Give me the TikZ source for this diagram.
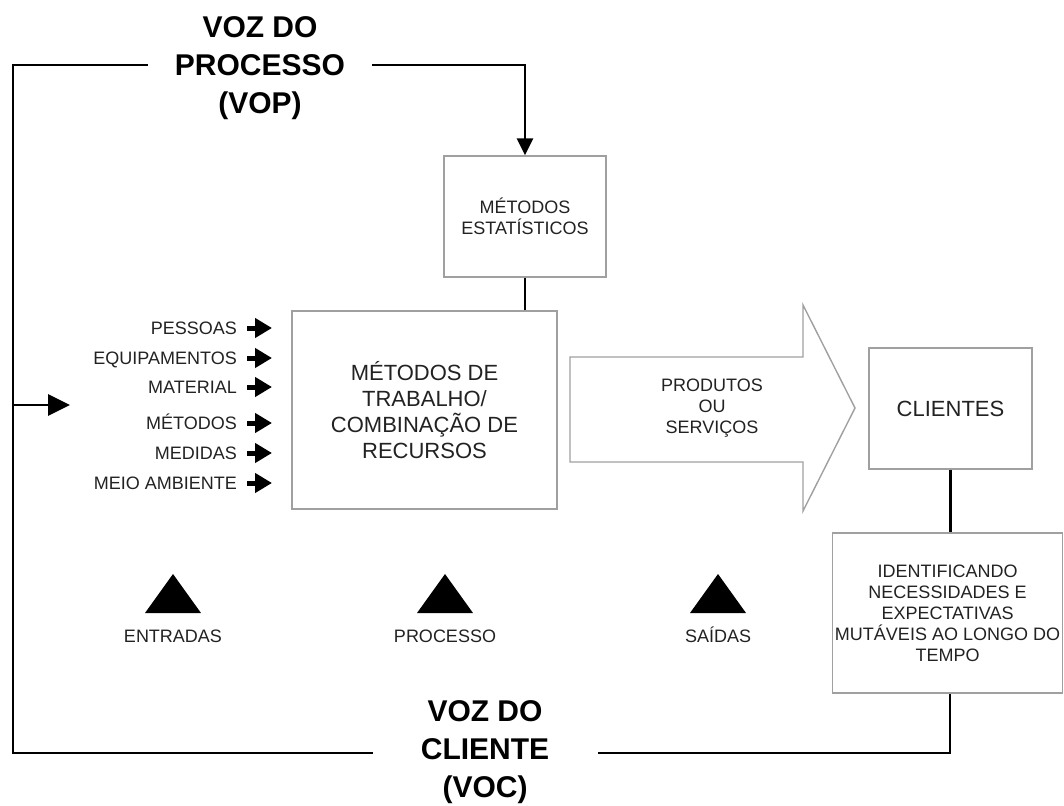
\documentclass[tikz,border=0pt]{standalone}
\usepackage{fontspec}
\setmainfont{Liberation Sans}
\usetikzlibrary{arrows.meta}
\definecolor{ink}{HTML}{222222}
\definecolor{edge}{HTML}{A0A0A0}
\begin{document}
\begin{tikzpicture}[x=1pt,y=-1pt,
  conn/.style={line width=2.9pt, draw=black},
  small/.style={font=\fontsize{18}{21}\selectfont},
  big/.style={font=\fontsize{22}{26}\selectfont},
  procbox/.style={draw=edge, line width=1.4pt, fill=white, inner sep=2pt,
    align=center, text=ink},
  title/.style={font=\bfseries\fontsize{30}{38}\selectfont, align=center,
    text=black, inner sep=0pt},
  lbl/.style={small, text=ink, anchor=east, inner sep=0pt,
    text height=12.9pt, text depth=0pt},
  lblarrow/.style={line width=5pt, -{Triangle[length=17pt,width=19pt]}},
  stage/.style={small, text=ink, inner sep=0pt, text height=12.9pt, text depth=0pt},
  wedge/.style={fill=black}
]
\useasboundingbox (0,0) rectangle (1064,805);

% titles of the two feedback loops
\node[title] (vop) at (260,68) {VOZ DO\\PROCESSO\\(VOP)};
\node[title] (voc) at (485,752) {VOZ DO\\CLIENTE\\(VOC)};

% boxes
\node[procbox, small, minimum width=162pt, minimum height=121pt] (est) at (525,216.5)
  {MÉTODOS\\ESTATÍSTICOS};
\node[procbox, big, minimum width=265pt, minimum height=198pt] (main) at (424.5,410)
  {MÉTODOS DE\\TRABALHO/\\COMBINAÇÃO DE\\RECURSOS};
\node[procbox, big, minimum width=163pt, minimum height=121pt] (cli) at (950.5,408.5)
  {CLIENTES};
\node[procbox, small, inner sep=1pt, minimum width=230pt, minimum height=160pt] (ident) at (947.5,613)
  {IDENTIFICANDO\\NECESSIDADES E\\EXPECTATIVAS\\MUTÁVEIS AO LONGO DO\\TEMPO};

% outputs block arrow
\draw[draw=edge, line width=1.4pt, fill=white]
  (570,357) -- (803,357) -- (803,305) -- (855,408) -- (803,511) -- (803,462) -- (570,462) -- cycle;
\node[small, text=ink, align=center] (out) at (712,408) {PRODUTOS\\OU\\SERVIÇOS};

% loop corners and gaps around the titles
\coordinate (tl) at (13,65);
\coordinate (bl) at (13,753);
\coordinate (tr) at (525,65);
\coordinate (br) at (950,753);
\coordinate (gapTL) at (148,65);
\coordinate (gapTR) at (372,65);
\coordinate (gapBL) at (373,753);
\coordinate (gapBR) at (598,753);
\coordinate (entry) at (70,405);

\draw[conn] (gapTL) -- (tl) -- (bl) -- (gapBL);
\draw[conn, -{Triangle[length=17pt,width=16pt]}] (gapTR) -- (tr) -- (est.north);
\draw[conn] (gapBR) -- (br) -- (br |- ident.south);
\draw[conn, -{Triangle[length=22pt,width=21pt]}] (tl |- entry) -- (entry);

% links between boxes
\draw[conn] (est.south) -- (est.south |- main.north);
\draw[conn] (cli.south) -- (cli.south |- ident.north);

% inputs
\foreach \name/\txt/\y in {p1/PESSOAS/328, p2/EQUIPAMENTOS/358, p3/MATERIAL/387,
                           p4/MÉTODOS/423, p5/MEDIDAS/453, p6/MEIO AMBIENTE/483} {
  \node[lbl] (\name) at (237,\y) {\txt};
  \draw[lblarrow] ([xshift=10pt]\name.east) -- ([xshift=35pt]\name.east);
}

% stage markers
\foreach \name/\txt/\x in {s1/ENTRADAS/173, s2/PROCESSO/445, s3/SAÍDAS/718} {
  \fill[wedge] (\x-28,613) -- (\x+28,613) -- (\x,574) -- cycle;
  \node[stage] (\name) at (\x,636) {\txt};
}
\end{tikzpicture}
\end{document}
